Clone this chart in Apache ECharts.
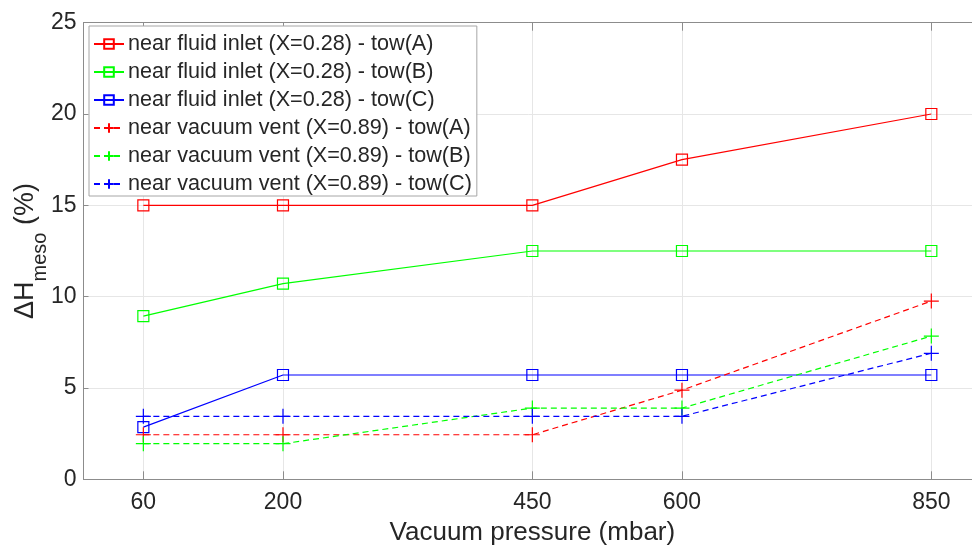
<!DOCTYPE html>
<html>
<head>
<meta charset="utf-8">
<script src="https://cdn.jsdelivr.net/npm/echarts@6/dist/echarts.min.js"></script>
<style>
html,body{margin:0;padding:0;background:#fff;}
#chart{width:972px;height:550px;}
</style>
</head>
<body>
<div id="chart"></div>
<script>
// ---- data ----
var pressures = [60, 200, 450, 600, 850];
var xTicks = [60, 200, 450, 600, 850];
var yTicks = [0, 5, 10, 15, 20, 25];
var seriesNames = [
  'near fluid inlet (X=0.28) - tow(A)',
  'near fluid inlet (X=0.28) - tow(B)',
  'near fluid inlet (X=0.28) - tow(C)',
  'near vacuum vent (X=0.89) - tow(A)',
  'near vacuum vent (X=0.89) - tow(B)',
  'near vacuum vent (X=0.89) - tow(C)'
];
var inletA = [15, 15, 15, 17.5, 20];
var inletB = [8.93, 10.71, 12.5, 12.5, 12.5];
var inletC = [2.86, 5.71, 5.71, 5.71, 5.71];
var ventA = [2.44, 2.44, 2.44, 4.88, 9.76];
var ventB = [1.95, 1.95, 3.9, 3.9, 7.84];
var ventC = [3.45, 3.45, 3.45, 3.45, 6.9];

// ---- chart ----
var colors = ['#ff0000', '#00ff00', '#0000ff', '#ff0000', '#00ff00', '#0000ff'];
var values = [inletA, inletB, inletC, ventA, ventB, ventC];
var plusPath = 'path://M0,-10L0,10M-10,0L10,0';

function pairs(v) { return pressures.map(function (p, i) { return [p, v[i]]; }); }

var series = values.map(function (v, i) {
  var isVent = i >= 3;
  return {
    name: seriesNames[i],
    type: 'line',
    data: pairs(v),
    symbol: isVent ? plusPath : 'rect',
    symbolSize: isVent ? 15 : 11,
    showSymbol: true,
    lineStyle: { color: colors[i], width: 1.2, type: isVent ? [6, 4] : 'solid' },
    itemStyle: { color: 'rgba(0,0,0,0)', borderColor: colors[i], borderWidth: 1.2 },
    emphasis: { disabled: true },
    z: 3
  };
});

var axisGray = '#8c8c8c';
var textColor = '#262626';
var font = 'Liberation Sans, Arial, Helvetica, sans-serif';

var chart = echarts.init(document.getElementById('chart'), null, { renderer: 'canvas' });
chart.setOption({
  animation: false,
  backgroundColor: '#ffffff',
  textStyle: { fontFamily: font },
  grid: { left: 83.5, top: 22.7, right: -9.2, bottom: 70.7, containLabel: false, outerBoundsMode: 'none' },
  legend: {
    orient: 'vertical',
    left: 89,
    top: 26,
    data: seriesNames,
    itemWidth: 30,
    itemHeight: 12,
    itemGap: 6,
    padding: [7, 5, 1, 4],
    backgroundColor: '#ffffff',
    borderColor: '#a6a6a6',
    borderWidth: 1,
    borderRadius: 0,
    selectedMode: false,
    textStyle: { fontSize: 21.6, color: textColor, fontFamily: font, lineHeight: 20, padding: [0, 0, 0, -1] }
  },
  xAxis: [{
    type: 'value',
    min: 0,
    max: 900,
    name: 'Vacuum pressure (mbar)',
    nameLocation: 'middle',
    nameGap: 41,
    nameMoveOverlap: false,
    nameTextStyle: { fontSize: 26, color: textColor, fontFamily: font },
    axisLine: { show: true, lineStyle: { color: axisGray, width: 1 } },
    axisTick: { show: true, inside: true, length: 8, customValues: xTicks, lineStyle: { color: axisGray } },
    axisLabel: { show: true, customValues: xTicks, margin: 12, fontSize: 23, color: textColor, fontFamily: font },
    splitLine: { show: true, lineStyle: { color: '#e6e6e6', width: 1 } }
  }, {
    type: 'value',
    position: 'top',
    min: 0,
    max: 900,
    axisLine: { show: true, onZero: false, lineStyle: { color: axisGray, width: 1 } },
    axisTick: { show: true, inside: true, length: 8, customValues: xTicks, lineStyle: { color: axisGray } },
    axisLabel: { show: false },
    splitLine: { show: false }
  }],
  yAxis: {
    type: 'value',
    min: 0,
    max: 25,
    interval: 5,
    name: '{d|ΔH}{s|meso}{d| (%)}',
    nameLocation: 'middle',
    nameGap: 44,
    nameMoveOverlap: false,
    nameRotate: 90,
    nameTextStyle: {
      color: textColor,
      fontFamily: font,
      rich: {
        d: { fontSize: 27, lineHeight: 27, verticalAlign: 'top', color: textColor, fontFamily: font },
        s: { fontSize: 20, lineHeight: 20, padding: [18, 0, 0, 0], verticalAlign: 'top', color: textColor, fontFamily: font }
      }
    },
    axisLine: { show: true, lineStyle: { color: axisGray, width: 1 } },
    axisTick: { show: true, inside: true, length: 5, lineStyle: { color: axisGray } },
    axisLabel: { margin: 7, fontSize: 23, color: textColor, fontFamily: font },
    splitLine: { show: true, lineStyle: { color: '#e6e6e6', width: 1 } }
  },
  series: series
});
</script>
</body>
</html>
